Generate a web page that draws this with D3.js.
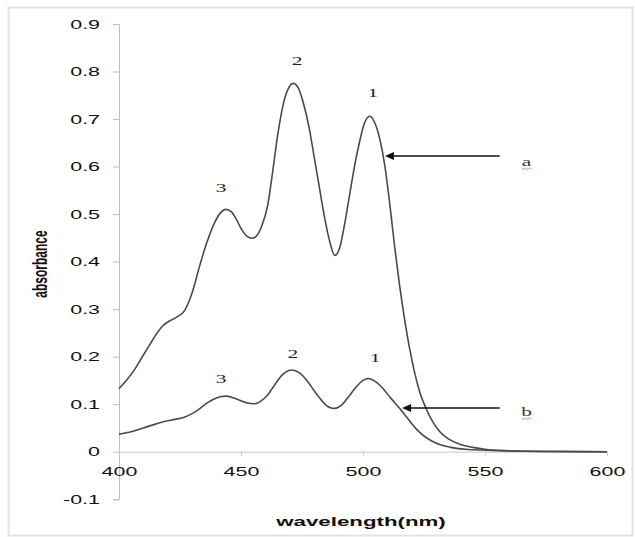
<!DOCTYPE html>
<html>
<head>
<meta charset="utf-8">
<script src="https://cdn.jsdelivr.net/npm/d3@7"></script>
<style>
  body { margin: 0; background: #fff; }
  svg { display: block; }
</style>
</head>
<body>
<svg width="635" height="537"></svg>
<script>
// curve a (upper spectrum)
var wlA = [400, 403, 406, 409, 412, 415, 418, 421, 424, 427, 430, 433, 436, 439, 441.5, 443.8, 446, 448, 450, 452.5, 454.5, 456.5, 458.5,
  461, 463, 465, 467.5, 469.5, 471.4, 473.5, 475.5, 478, 480, 482, 484, 486, 488.5, 490.5, 492.5, 494.5, 496.5, 498.5, 500.5,
  502.8, 505, 507, 509, 511, 513, 515, 517, 519, 521, 523, 525.5, 528, 531.5, 535, 540, 545, 550, 560, 575, 600];
var absA = [0.133, 0.15, 0.17, 0.195, 0.22, 0.245, 0.265, 0.276, 0.284, 0.298, 0.335, 0.39, 0.44, 0.48, 0.502, 0.51, 0.505, 0.49, 0.47, 0.453, 0.449, 0.455, 0.475,
  0.52, 0.59, 0.665, 0.735, 0.765, 0.775, 0.765, 0.735, 0.68, 0.62, 0.56, 0.5, 0.45, 0.413, 0.43, 0.48, 0.54, 0.6, 0.65, 0.69,
  0.706, 0.69, 0.655, 0.6, 0.52, 0.43, 0.35, 0.28, 0.22, 0.17, 0.13, 0.095, 0.068, 0.042, 0.027, 0.015, 0.009, 0.005, 0.002, 0.0005, 0];

// curve b (lower spectrum)
var wlB = [400, 405, 410, 415, 419, 423, 427, 430, 433, 436, 439, 442, 444, 447, 450, 453, 455.5, 458, 461, 464, 467, 470.8, 474, 477,
  480, 483, 485.5, 488, 491, 494, 497, 500, 502.2, 505, 508, 511, 513, 516, 518, 520, 522, 525, 528, 532, 536, 542, 550, 565, 600];
var absB = [0.037, 0.042, 0.05, 0.058, 0.064, 0.068, 0.073, 0.08, 0.09, 0.102, 0.111, 0.116, 0.117, 0.113, 0.107, 0.102, 0.101, 0.106, 0.12, 0.142, 0.162, 0.172, 0.166, 0.15,
  0.128, 0.108, 0.095, 0.091, 0.097, 0.115, 0.135, 0.15, 0.154, 0.148, 0.134, 0.115, 0.103, 0.085, 0.072, 0.059, 0.047, 0.033, 0.023, 0.014, 0.009, 0.005, 0.003, 0.001, 0];

var xTicks = [400, 450, 500, 550, 600];
var yTicks = [-0.1, 0, 0.1, 0.2, 0.3, 0.4, 0.5, 0.6, 0.7, 0.8, 0.9];

// peak numbers (label centre, in data units)
var peakText = ["3", "2", "1", "3", "2", "1"];
var peakWl = [441.8, 473, 504, 441.8, 471.2, 505];
var peakAbs = [0.556, 0.822, 0.755, 0.154, 0.207, 0.197];

// arrows pointing to the curves
var arrowName = ["a", "b"];
var arrowFrom = [556, 556];
var arrowTo = [509, 516];
var arrowAbs = [0.622, 0.092];
var nameWl = [567, 567];
var nameAbs = [0.61, 0.084];

var svg = d3.select("svg");
var SX = 1.65;   // the original picture is stretched sideways, so is its text

svg.append("rect")
  .attr("x", 8.5).attr("y", 7.5).attr("width", 624).attr("height", 528)
  .attr("fill", "none").attr("stroke", "#e2e2e2").attr("stroke-width", 2);

var x = d3.scaleLinear().domain([400, 600]).range([119, 607]);
var y = d3.scaleLinear().domain([-0.1, 0.9]).range([499.2, 24]);

// y axis
var yAxis = svg.append("g")
  .attr("transform", "translate(" + x(400) + ",0)")
  .call(d3.axisLeft(y).tickValues(yTicks).tickSize(6).tickPadding(0)
    .tickFormat(function (d) { return d === 0 ? "0" : d.toFixed(1); }));
yAxis.select(".domain").attr("stroke", "#bdbdbd");
yAxis.selectAll(".tick line").attr("stroke", "#bdbdbd");
yAxis.selectAll(".tick text")
  .attr("x", -19 / SX)
  .attr("transform", "scale(" + SX + ",1)")
  .attr("fill", "#111")
  .style("font-family", "Liberation Sans, Arial, sans-serif")
  .style("font-size", "13px");

// x axis sits on y = 0
var xAxis = svg.append("g")
  .attr("transform", "translate(0," + y(0) + ")")
  .call(d3.axisBottom(x).tickValues(xTicks).tickSize(4).tickSizeOuter(0));
xAxis.select(".domain").attr("stroke", "#c8c8c8");
xAxis.selectAll(".tick line").attr("stroke", "#c8c8c8");
xAxis.selectAll(".tick text")
  .attr("y", 20).attr("dy", "0.35em")
  .attr("transform", "scale(" + SX + ",1)")
  .attr("fill", "#111")
  .style("font-family", "Liberation Sans, Arial, sans-serif")
  .style("font-size", "13px");
svg.selectAll(".domain").attr("stroke-width", 1);

// spectra
var line = d3.line()
  .x(function (d) { return x(d[0]); })
  .y(function (d) { return y(d[1]); })
  .curve(d3.curveMonotoneX);

svg.append("path")
  .datum(d3.zip(wlA, absA))
  .attr("d", line)
  .attr("fill", "none").attr("stroke", "#4a4a4a").attr("stroke-width", 1.6);

svg.append("path")
  .datum(d3.zip(wlB, absB))
  .attr("d", line)
  .attr("fill", "none").attr("stroke", "#4a4a4a").attr("stroke-width", 1.6);

// stretched text helper
function stext(px, py, str) {
  return svg.append("text")
    .attr("transform", "translate(" + px + "," + py + ") scale(" + SX + ",1)")
    .text(str);
}

// axis titles
stext(361, 521, "wavelength(nm)")
  .attr("text-anchor", "middle").attr("dominant-baseline", "central")
  .attr("fill", "#111")
  .style("font-family", "Liberation Sans, Arial, sans-serif")
  .style("font-size", "13.5px").style("font-weight", "bold");

svg.append("text")
  .attr("transform", "translate(40,264) scale(" + SX + ",1) rotate(-90)")
  .attr("text-anchor", "middle").attr("dominant-baseline", "central")
  .attr("fill", "#111")
  .style("font-family", "Liberation Sans, Arial, sans-serif")
  .style("font-size", "12px").style("font-weight", "bold")
  .text("absorbance");

// peak numbers
peakText.forEach(function (t, i) {
  stext(x(peakWl[i]), y(peakAbs[i]), t)
    .attr("text-anchor", "middle").attr("dominant-baseline", "central")
    .attr("fill", "#222")
    .style("font-family", "Liberation Serif, Times New Roman, serif")
    .style("font-size", "13px");
});

// arrows
arrowName.forEach(function (n, i) {
  svg.append("line")
    .attr("x1", x(arrowFrom[i])).attr("y1", y(arrowAbs[i]))
    .attr("x2", x(arrowTo[i]) + 8).attr("y2", y(arrowAbs[i]))
    .attr("stroke", "#111").attr("stroke-width", 1.5);
  svg.append("path")
    .attr("d", "M" + x(arrowTo[i]) + "," + y(arrowAbs[i]) + "l9,-4l0,8z")
    .attr("fill", "#111");

  stext(x(nameWl[i]), y(nameAbs[i]), n)
    .attr("text-anchor", "middle").attr("dominant-baseline", "central")
    .attr("fill", "#333")
    .style("font-family", "Liberation Serif, Times New Roman, serif")
    .style("font-size", "13px");

  // green spell-check squiggle under the letter
  var sx0 = x(nameWl[i]) - 5, sy0 = y(nameAbs[i]) + 6;
  svg.append("path")
    .attr("d", "M" + sx0 + "," + sy0 + "l2,2l2,-2l2,2l2,-2l2,2")
    .attr("fill", "none").attr("stroke", "#6bbf6b").attr("stroke-width", 1);
});
</script>
</body>
</html>
